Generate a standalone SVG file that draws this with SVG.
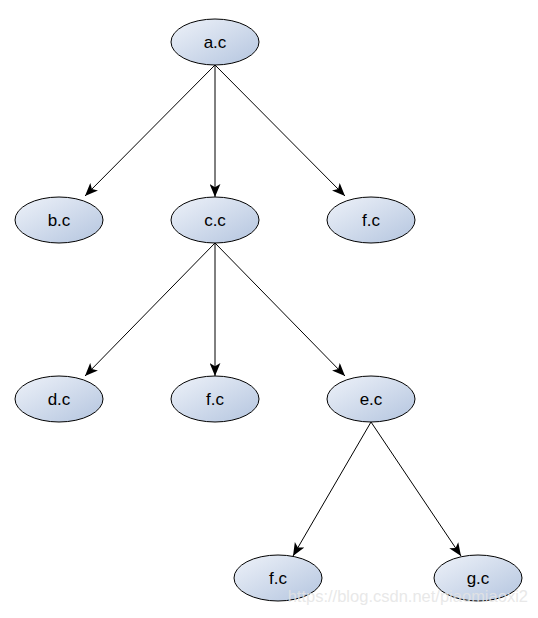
<svg xmlns="http://www.w3.org/2000/svg" width="538" height="618" viewBox="0 0 538 618">
<defs>
<linearGradient id="g" x1="0" y1="0" x2="1" y2="1">
<stop offset="0" stop-color="#eef2f9"/>
<stop offset="1" stop-color="#b4c5df"/>
</linearGradient>
<marker id="arr" viewBox="0 0 12 10" refX="12" refY="5" markerWidth="13" markerHeight="11" markerUnits="userSpaceOnUse" orient="auto">
<path d="M0,0 L12,5 L0,10 L3,5 Z" fill="#000"/>
</marker>
<style>
.n ellipse{fill:url(#g);stroke:#000;stroke-width:1}
.n text{font-family:"Liberation Sans",Arial,sans-serif;font-size:17px;fill:#000;text-anchor:middle;dominant-baseline:central}
#edges line{stroke:#000;stroke-width:1;marker-end:url(#arr)}
</style>
</defs>
<rect width="538" height="618" fill="#fff"/>
<g id="edges">
<line x1="215" y1="65" x2="85" y2="196"/>
<line x1="215" y1="65" x2="215" y2="197"/>
<line x1="215" y1="65" x2="345" y2="196"/>
<line x1="215" y1="243" x2="85" y2="376"/>
<line x1="215" y1="243" x2="215" y2="376"/>
<line x1="215" y1="243" x2="345" y2="376"/>
<line x1="371" y1="422" x2="293" y2="556"/>
<line x1="371" y1="422" x2="461" y2="556"/>
</g>
<g id="a" class="n"><ellipse cx="215" cy="42" rx="44" ry="23"/><text x="215" y="42">a.c</text></g>
<g id="b" class="n"><ellipse cx="59" cy="220" rx="44" ry="23"/><text x="59" y="220">b.c</text></g>
<g id="c" class="n"><ellipse cx="215" cy="220" rx="44" ry="23"/><text x="215" y="220">c.c</text></g>
<g id="f1" class="n"><ellipse cx="371" cy="220" rx="44" ry="23"/><text x="371" y="220">f.c</text></g>
<g id="d" class="n"><ellipse cx="59" cy="399" rx="44" ry="23"/><text x="59" y="399">d.c</text></g>
<g id="f2" class="n"><ellipse cx="215" cy="399" rx="44" ry="23"/><text x="215" y="399">f.c</text></g>
<g id="e" class="n"><ellipse cx="371" cy="399" rx="44" ry="23"/><text x="371" y="399">e.c</text></g>
<g id="f3" class="n"><ellipse cx="278" cy="578" rx="44" ry="23"/><text x="278" y="578">f.c</text></g>
<g id="gc" class="n"><ellipse cx="478" cy="578" rx="44" ry="23"/><text x="478" y="578">g.c</text></g>
<text x="528" y="602" text-anchor="end" font-family="Liberation Sans, Arial, sans-serif" font-size="16.5" fill="#e4e4e4" fill-opacity="0.85">https://blog.csdn.net/piaomiaoxi2</text>
</svg>
